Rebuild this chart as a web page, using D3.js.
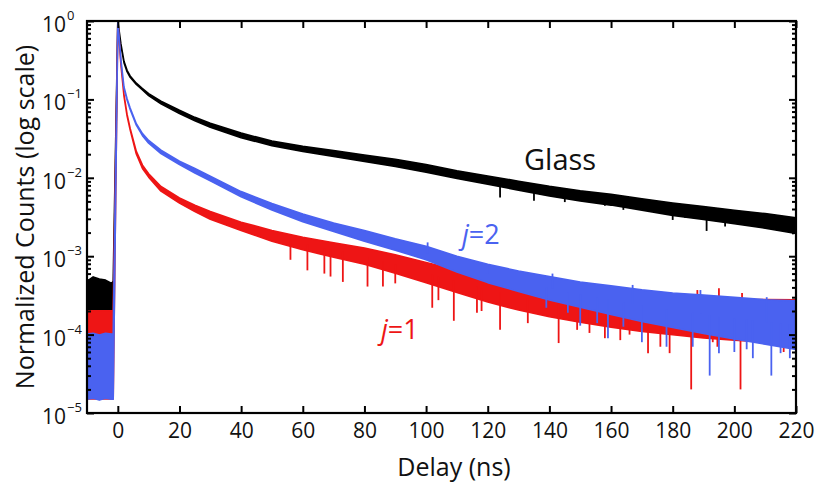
<!DOCTYPE html>
<html>
<head>
<meta charset="utf-8">
<script src="https://cdn.jsdelivr.net/npm/d3@7"></script>
<style>
  body { margin: 0; background: #fff; }
  text { font-family: "Open Sans", "DejaVu Sans", sans-serif; fill: #111; }
</style>
</head>
<body>
<svg id="chart" width="819" height="483"></svg>
<script>
// Delay samples (ns) shared by the three decays
const delay = [-10, -8, -6, -4, -2, -1.5, 0, 1, 2, 3, 4, 6, 8, 10, 14, 20, 25, 30, 40, 50, 60, 70, 80, 90, 100,
  110, 120, 130, 140, 150, 160, 170, 180, 190, 200, 210, 220];

// Glass: middle of the noisy trace and the noise factor around it
const glassMid = [3.0e-4, 3.4e-4, 3.2e-4, 3.1e-4, 2.8e-4, 3.0e-4, 1.0, 0.50, 0.30, 0.23, 0.195, 0.158, 0.135, 0.115,
  0.0912, 0.0692, 0.0562, 0.0468, 0.0347, 0.0275, 0.0234, 0.0204, 0.0178, 0.0155, 0.0132,
  0.0110, 0.00933, 0.00794, 0.00676, 0.00589, 0.00525, 0.00457, 0.00398, 0.00355, 0.00316, 0.00282, 0.00245];
const glassNoise = [1.6, 1.6, 1.6, 1.6, 1.6, 1.6, 1.0, 1.02, 1.02, 1.02, 1.02, 1.02, 1.02, 1.03,
  1.04, 1.05, 1.05, 1.06, 1.07, 1.07, 1.08, 1.09, 1.10, 1.11, 1.12,
  1.12, 1.13, 1.14, 1.15, 1.16, 1.17, 1.18, 1.20, 1.21, 1.22, 1.24, 1.26];

// j=1
const j1Mid = [5.5e-5, 5.5e-5, 5.5e-5, 5.5e-5, 5.5e-5, 5.5e-5, 1.0, 0.282, 0.112, 0.0631, 0.0417, 0.0209, 0.0138, 0.0107,
  0.00724, 0.00513, 0.00407, 0.00331, 0.00240, 0.00182, 0.00145, 0.00120, 0.00100, 0.000794, 0.000617,
  0.000479, 0.000372, 0.000302, 0.000257, 0.000224, 0.000200, 0.000182, 0.000170, 0.000160, 0.000153, 0.000150, 0.000147];
const j1Noise = [3.65, 3.65, 3.65, 3.65, 3.65, 3.65, 1.0, 1.02, 1.02, 1.02, 1.02, 1.04, 1.05, 1.05,
  1.07, 1.08, 1.10, 1.12, 1.13, 1.17, 1.20, 1.24, 1.27, 1.31, 1.35,
  1.39, 1.43, 1.47, 1.52, 1.56, 1.61, 1.66, 1.71, 1.76, 1.81, 1.87, 1.89];

// j=2
const j2Mid = [3.9e-5, 4.0e-5, 3.8e-5, 4.0e-5, 3.9e-5, 3.9e-5, 1.0, 0.316, 0.141, 0.10, 0.0759, 0.0479, 0.0355, 0.0288,
  0.0214, 0.0155, 0.0123, 0.00977, 0.00617, 0.00427, 0.00309, 0.00234, 0.00182, 0.00141, 0.00110,
  0.000794, 0.000603, 0.000479, 0.000389, 0.000324, 0.000275, 0.000234, 0.000204, 0.000182, 0.000162, 0.000145, 0.000132];
const j2Noise = [2.6, 2.6, 2.6, 2.6, 2.6, 2.6, 1.0, 1.02, 1.02, 1.02, 1.02, 1.02, 1.03, 1.04,
  1.05, 1.05, 1.07, 1.07, 1.08, 1.10, 1.12, 1.13, 1.17, 1.18, 1.22,
  1.26, 1.31, 1.35, 1.41, 1.45, 1.52, 1.59, 1.66, 1.76, 1.84, 1.92, 2.04];

// single-bin excursions that stick out of each band: [delay, counts]
const glassSpikes = [[124, 5.6e-3], [135, 5.1e-3], [145, 4.9e-3], [158, 4.4e-3], [164, 3.9e-3], [180, 2.9e-3],
  [184, 3.1e-3], [191, 2.1e-3], [197, 2.4e-3], [206, 2.9e-3], [214, 2.1e-3], [219, 1.9e-3]];
const j1Spikes = [[56, 9e-4], [61.5, 6.6e-4], [67, 6e-4], [69, 5.5e-4], [73, 4.7e-4], [81, 4.1e-4], [86, 4.1e-4],
  [90, 4.5e-4], [102, 2.2e-4], [104, 2.75e-4], [109, 1.5e-4], [116.5, 1.9e-4], [118, 2e-4], [124, 1.15e-4],
  [133, 1.4e-4], [143, 7.8e-5], [149, 1.15e-4], [153, 1.05e-4], [158, 9e-5], [163, 8.5e-5], [166, 1e-4],
  [172, 5.8e-5], [176, 7e-5], [179, 5.8e-5], [186, 2e-5], [188, 3.7e-4], [193, 8e-5], [194.5, 7e-5],
  [195, 3.9e-4], [200, 8.5e-5], [202, 2e-5], [202.5, 3.4e-4], [210, 8e-5], [216, 6e-5], [219, 2.75e-4]];
const j2Spikes = [[100.5, 1.5e-3], [120, 7.8e-4], [139, 2.2e-4], [141, 6e-4], [146, 1.9e-4], [150, 1.3e-4],
  [155.5, 1.4e-4], [159, 9e-5], [164, 1.26e-4], [167, 4.3e-4], [170, 8e-5], [178, 7e-5], [186.5, 7e-5],
  [189, 3.7e-4], [192, 3e-5], [195, 5.8e-5], [200, 6e-5], [204, 6.5e-5], [206, 5e-5], [210.5, 3e-4],
  [212, 3e-5], [215, 5.8e-5], [218, 5e-5]];

const xTicks = [0, 20, 40, 60, 80, 100, 120, 140, 160, 180, 200, 220];
const yExponents = [0, -1, -2, -3, -4, -5];

const svg = d3.select('#chart');
const plotLeft = 87, plotRight = 796, plotTop = 21, plotBottom = 413;

const x = d3.scaleLinear().domain([-10, 220]).range([plotLeft, plotRight]);
const y = d3.scaleLog().domain([1e-5, 1]).range([plotBottom, plotTop]);

svg.append('defs').append('clipPath').attr('id', 'plot')
  .append('rect').attr('x', plotLeft).attr('y', plotTop)
  .attr('width', plotRight - plotLeft).attr('height', plotBottom - plotTop);

const plot = svg.append('g').attr('clip-path', 'url(#plot)');

function drawTrace(mid, noise, spikes, color) {
  const rows = delay.map((t, i) => ({ t, lo: mid[i] / noise[i], hi: mid[i] * noise[i] }));
  const area = d3.area()
    .x(d => x(d.t))
    .y0(d => y(d.lo))
    .y1(d => y(d.hi));
  plot.append('path')
    .attr('d', area(rows))
    .attr('fill', color)
    .attr('stroke', color)
    .attr('stroke-width', 1.6)
    .attr('stroke-linejoin', 'round');

  // middle of the band, piecewise in log space, so each spike starts inside it
  const midLog = d3.scaleLinear().domain(delay).range(mid.map(Math.log10));
  plot.selectAll(null)
    .data(spikes)
    .join('line')
    .attr('x1', d => x(d[0])).attr('x2', d => x(d[0]))
    .attr('y1', d => y(Math.pow(10, midLog(d[0]))))
    .attr('y2', d => y(d[1]))
    .attr('stroke', color)
    .attr('stroke-width', 1.8);
}

drawTrace(glassMid, glassNoise, glassSpikes, '#000000');
drawTrace(j1Mid, j1Noise, j1Spikes, '#ee1515');
drawTrace(j2Mid, j2Noise, j2Spikes, '#4a62f0');

// minor log ticks
const minors = [];
for (let e = -5; e < 0; e++) for (let m = 2; m <= 9; m++) minors.push(m * Math.pow(10, e));
const decades = yExponents.map(e => Math.pow(10, e));

function styleAxis(g) {
  g.select('.domain').remove();
  g.selectAll('.tick line').attr('stroke', '#000').attr('stroke-width', 2);
}

svg.append('g').attr('transform', `translate(0,${plotBottom})`)
  .call(d3.axisBottom(x).tickValues(xTicks).tickSize(-7).tickPadding(10).tickFormat(d3.format('d')))
  .call(styleAxis)
  .call(g => g.selectAll('text').attr('font-size', 21).attr('fill', '#111')
    .style('font-family', '"Open Sans", sans-serif'));

svg.append('g').attr('transform', `translate(0,${plotTop})`)
  .call(d3.axisTop(x).tickValues(xTicks).tickSize(-7).tickFormat(''))
  .call(styleAxis);

svg.append('g').attr('transform', `translate(${plotLeft},0)`)
  .call(d3.axisLeft(y).tickValues(decades).tickSize(-7).tickFormat(''))
  .call(styleAxis);
svg.append('g').attr('transform', `translate(${plotLeft},0)`)
  .call(d3.axisLeft(y).tickValues(minors).tickSize(-4).tickFormat(''))
  .call(styleAxis);
svg.append('g').attr('transform', `translate(${plotRight},0)`)
  .call(d3.axisRight(y).tickValues(decades).tickSize(-7).tickFormat(''))
  .call(styleAxis);
svg.append('g').attr('transform', `translate(${plotRight},0)`)
  .call(d3.axisRight(y).tickValues(minors).tickSize(-4).tickFormat(''))
  .call(styleAxis);

// y tick labels as 10 with a superscript exponent
yExponents.forEach(e => {
  svg.append('text')
    .attr('x', 66).attr('y', y(Math.pow(10, e)) + 11)
    .attr('text-anchor', 'end')
    .attr('font-size', 21)
    .text('10');
  svg.append('text')
    .attr('x', 67).attr('y', y(Math.pow(10, e)) - 1)
    .attr('font-size', 13)
    .text(e === 0 ? '0' : '\u2212' + Math.abs(e));
});

svg.append('rect')
  .attr('x', plotLeft).attr('y', plotTop)
  .attr('width', plotRight - plotLeft).attr('height', plotBottom - plotTop)
  .attr('fill', 'none').attr('stroke', '#000').attr('stroke-width', 2.2);

svg.append('text')
  .attr('x', 454).attr('y', 476)
  .attr('text-anchor', 'middle').attr('font-size', 25)
  .text('Delay (ns)');

svg.append('text')
  .attr('transform', `translate(34,${(plotTop + plotBottom) / 2}) rotate(-90)`)
  .attr('text-anchor', 'middle').attr('font-size', 25)
  .text('Normalized Counts (log scale)');

svg.append('text').attr('x', 524).attr('y', 170).attr('font-size', 29).text('Glass');

const lab2 = svg.append('text').attr('x', 462).attr('y', 244).attr('font-size', 27).style('fill', '#4a62f0');
lab2.append('tspan').attr('font-style', 'italic').text('j');
lab2.append('tspan').text('=2');

const lab1 = svg.append('text').attr('x', 381).attr('y', 339).attr('font-size', 27).style('fill', '#ee1515');
lab1.append('tspan').attr('font-style', 'italic').text('j');
lab1.append('tspan').text('=1');
</script>
</body>
</html>
